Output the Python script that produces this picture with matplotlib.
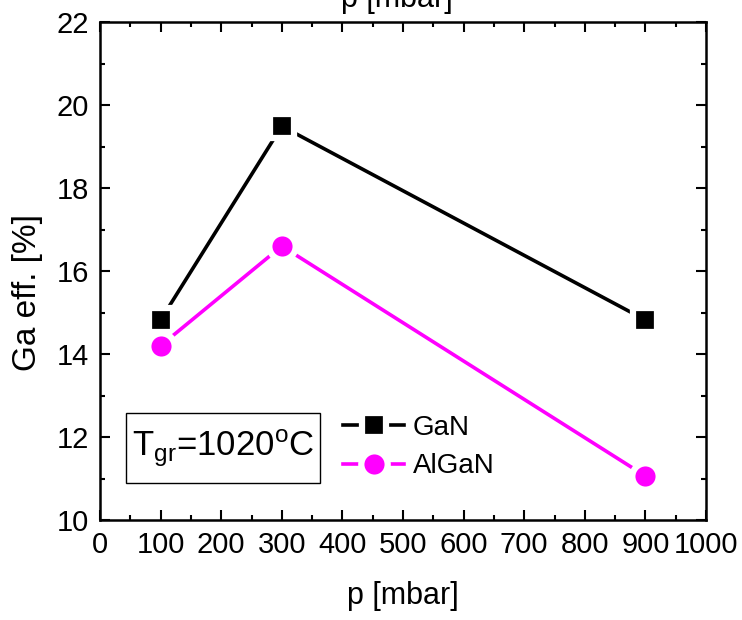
import matplotlib
matplotlib.use("Agg")
import matplotlib.pyplot as plt
from matplotlib.ticker import MultipleLocator
from matplotlib.patches import Rectangle

plt.rcParams['font.family'] = ['Liberation Sans', 'DejaVu Sans']
plt.rcParams['mathtext.fontset'] = 'custom'
plt.rcParams['mathtext.rm'] = 'Liberation Sans'
plt.rcParams['mathtext.it'] = 'Liberation Sans'

pressure = [100, 300, 900]
gan = [14.82, 19.49, 14.82]
algan = [14.2, 16.6, 11.06]
x_ticks = [0, 100, 200, 300, 400, 500, 600, 700, 800, 900, 1000]
y_ticks = [10, 12, 14, 16, 18, 20, 22]

fig = plt.figure(figsize=(7.42, 6.2), dpi=100)
ax = fig.add_axes([100/742, 1-520/620, 606/742, 498/620])

ax.plot(pressure, gan, color='black', lw=2.6, marker='s', ms=17, mfc='black',
        mec='white', mew=4.5, label='GaN')
ax.plot(pressure, algan, color='#FF00FF', lw=2.6, marker='o', ms=19, mfc='#FF00FF',
        mec='white', mew=4.5, label='AlGaN')

ax.set_xlim(0, 1000)
ax.set_ylim(10, 22)
ax.set_xticks(x_ticks)
ax.set_yticks(y_ticks)
ax.xaxis.set_minor_locator(MultipleLocator(50))
ax.yaxis.set_minor_locator(MultipleLocator(1))
ax.tick_params(which='both', direction='in', top=True, right=True, labelsize=21, width=1.5, pad=8)
ax.tick_params(which='major', length=7)
ax.tick_params(which='minor', length=3.5)
for s in ax.spines.values():
    s.set_linewidth(1.8)

ax.set_xlabel('p [mbar]', fontsize=22, labelpad=16)
ax.set_ylabel('Ga eff. [%]', fontsize=24)
ax.yaxis.set_label_coords(-0.094, 0.456)
fig.text(0.535, 0.988, 'p [mbar]', fontsize=22, ha='center', va='baseline')

ax.add_patch(Rectangle((0.0429, 0.0743), 0.3201, 0.1406, transform=ax.transAxes,
                       fc='white', ec='black', lw=1, zorder=3))
ax.text(0.2029, 0.1446, r'T$_{\mathrm{gr}}$=1020$^{\mathrm{o}}$C', transform=ax.transAxes,
        fontsize=25, ha='center', va='center', zorder=4)

leg = ax.legend(loc='center left', bbox_to_anchor=(0.401, 0.1466), frameon=False,
                fontsize=20, handlelength=2.2, handletextpad=0.3, labelspacing=0.45,
                borderpad=0, borderaxespad=0)

fig.savefig('out.png', dpi=100)
